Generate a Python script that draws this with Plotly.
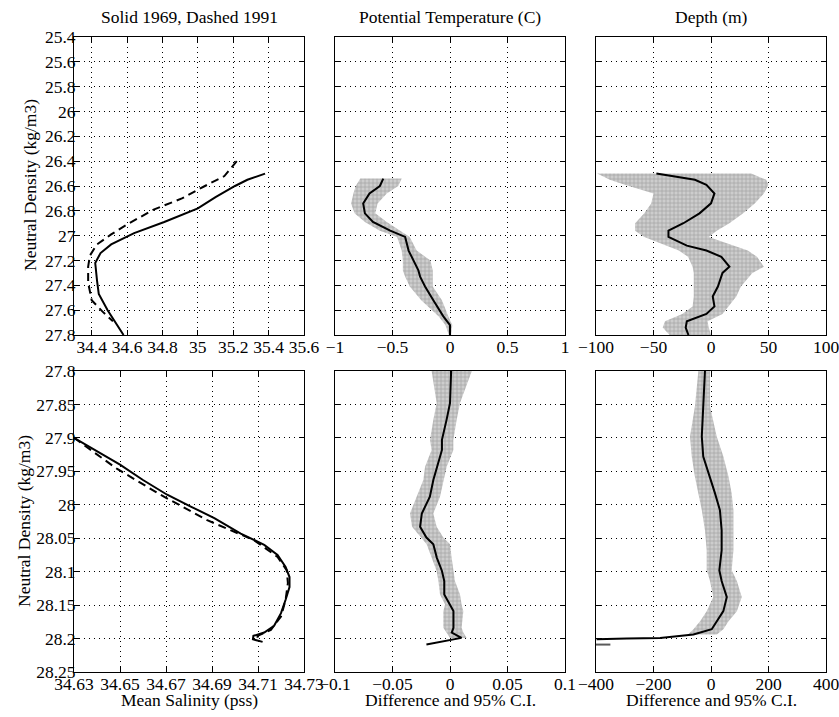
import plotly.graph_objects as go

# ---------------- data ----------------
# Top row: neutral density 25.4 - 27.8
sal69_top_y = [26.5, 26.55, 26.6, 26.69, 26.78, 26.89, 26.98, 27.07, 27.14, 27.22, 27.36, 27.47, 27.6, 27.8]
sal69_top_x = [35.38, 35.28, 35.21, 35.10, 35.00, 34.81, 34.64, 34.51, 34.45, 34.42, 34.43, 34.44, 34.49, 34.58]
sal91_top_y = [26.4, 26.52, 26.6, 26.7, 26.79, 26.91, 26.99, 27.07, 27.16, 27.25, 27.38, 27.52, 27.61, 27.69]
sal91_top_x = [35.22, 35.15, 35.04, 34.91, 34.75, 34.60, 34.51, 34.43, 34.39, 34.38, 34.38, 34.40, 34.46, 34.52]

temp_top_y = [26.54, 26.6, 26.66, 26.74, 26.82, 26.89, 26.96, 27.01, 27.12, 27.2, 27.28, 27.33, 27.41, 27.52, 27.65, 27.72, 27.8]
temp_top_x = [-0.58, -0.61, -0.70, -0.755, -0.74, -0.67, -0.52, -0.39, -0.36, -0.32, -0.275, -0.26, -0.217, -0.145, -0.058, 0.0, 0.0]
temp_top_lo = [-0.78, -0.82, -0.84, -0.86, -0.83, -0.74, -0.61, -0.46, -0.42, -0.41, -0.41, -0.39, -0.35, -0.25, -0.10, -0.04, -0.01]
temp_top_hi = [-0.42, -0.45, -0.55, -0.63, -0.65, -0.55, -0.43, -0.35, -0.29, -0.17, -0.15, -0.15, -0.15, -0.07, -0.015, 0.02, 0.01]

depth_top_y = [26.5, 26.55, 26.59, 26.66, 26.74, 26.82, 26.9, 26.96, 27.01, 27.08, 27.12, 27.17, 27.25, 27.3, 27.41, 27.49, 27.57, 27.63, 27.69, 27.74, 27.8]
depth_top_x = [-47.5, -14, -4, 3, 0, -10, -24, -37, -37, -21, -4, 9, 16, 10, 6, 1.5, 3, -4, -21, -22, -19.6]
depth_top_lo = [-99, -88, -75, -50, -52, -58, -66, -66, -58, -38, -28, -20, -16, -15, -15, -15, -16, -25, -40, -42, -36]
depth_top_hi = [35, 48, 50, 46, 38, 28, 16, 5, -2, 20, 32, 40, 46, 36, 26, 22, 15, 10, -3, -2, 0]

# Bottom row: neutral density 27.8 - 28.25
sal69_bot_y = [27.9, 27.92, 27.94, 27.963, 27.985, 28.003, 28.02, 28.043, 28.06, 28.075, 28.093, 28.108, 28.123, 28.142, 28.162, 28.181, 28.191, 28.196, 28.2012, 28.205]
sal69_bot_x = [34.63, 34.64, 34.65, 34.66, 34.6705, 34.681, 34.691, 34.7025, 34.7127, 34.7185, 34.722, 34.7237, 34.7237, 34.722, 34.72, 34.717, 34.7127, 34.708, 34.7078, 34.712]
sal91_bot_y = [27.9, 27.946, 27.985, 28.023, 28.053, 28.078, 28.098, 28.117, 28.142, 28.167, 28.187, 28.196, 28.203]
sal91_bot_x = [34.63, 34.6486, 34.6676, 34.6879, 34.7083, 34.7185, 34.7225, 34.723, 34.722, 34.72, 34.7156, 34.7098, 34.7098]

temp_bot_y = [27.8, 27.848, 27.873, 27.903, 27.918, 27.943, 27.963, 27.988, 28.013, 28.033, 28.049, 28.059, 28.079, 28.099, 28.114, 28.134, 28.149, 28.159, 28.184, 28.191, 28.199, 28.209]
temp_bot_x = [0.001, 0.0, -0.003, -0.007, -0.007, -0.0115, -0.0145, -0.0175, -0.0245, -0.026, -0.0205, -0.0145, -0.0115, -0.007, -0.005, -0.005, 0.0, 0.003, 0.003, 0.0015, 0.01, -0.0205]
temp_bot_band_y = temp_bot_y[:21]
temp_bot_lo = [-0.016, -0.0116, -0.0145, -0.0174, -0.016, -0.0217, -0.0232, -0.029, -0.0348, -0.033, -0.0248, -0.0203, -0.016, -0.0116, -0.0101, -0.0087, -0.0043, -0.0058, -0.0058, -0.0029, 0.0]
temp_bot_hi = [0.019, 0.0087, 0.0058, 0.0029, 0.0029, -0.0029, -0.0058, -0.0087, -0.0145, -0.0116, -0.0058, 0.0, 0.0014, 0.0029, 0.0043, 0.0087, 0.0101, 0.0116, 0.0101, 0.0116, 0.0145]

depth_bot_y = [27.8, 27.853, 27.898, 27.928, 27.958, 27.983, 28.008, 28.038, 28.068, 28.098, 28.114, 28.138, 28.159, 28.174, 28.186, 28.194, 28.199, 28.2, 28.201]
depth_bot_x = [-21, -27, -32, -27, -3.5, 14, 31, 37, 37, 29, 37, 55, 43, 20, 2.5, -61, -177, -293, -398]
depth_bot_band_y = [27.8, 27.853, 27.898, 27.928, 27.958, 27.983, 28.008, 28.038, 28.068, 28.098, 28.114, 28.138, 28.159, 28.174, 28.186, 28.194]
depth_bot_lo = [-44, -56, -73, -67, -56, -44, -32, -21, -15, -15, -3.5, 8, -15, -38, -61, -80]
depth_bot_hi = [-3.5, -3.5, 20, 43, 61, 72, 78, 78, 78, 72, 90, 107, 90, 61, 43, 20]
depth_bot_stub_x = [-400, -350]
depth_bot_stub_y = [28.209, 28.209]

# axis ticks
top_y_ticks = [25.4, 25.6, 25.8, 26.0, 26.2, 26.4, 26.6, 26.8, 27.0, 27.2, 27.4, 27.6, 27.8]
top_y_text = ["25.4", "25.6", "25.8", "26", "26.2", "26.4", "26.6", "26.8", "27", "27.2", "27.4", "27.6", "27.8"]
bot_y_ticks = [27.8, 27.85, 27.9, 27.95, 28.0, 28.05, 28.1, 28.15, 28.2, 28.25]
bot_y_text = ["27.8", "27.85", "27.9", "27.95", "28", "28.05", "28.1", "28.15", "28.2", "28.25"]
sal_top_ticks = [34.4, 34.6, 34.8, 35.0, 35.2, 35.4, 35.6]
sal_top_text = ["34.4", "34.6", "34.8", "35", "35.2", "35.4", "35.6"]
temp_top_ticks = [-1, -0.5, 0, 0.5, 1]
temp_top_text = ["\u22121", "\u22120.5", "0", "0.5", "1"]
depth_top_ticks = [-100, -50, 0, 50, 100]
depth_top_text = ["\u2212100", "\u221250", "0", "50", "100"]
sal_bot_ticks = [34.63, 34.65, 34.67, 34.69, 34.71, 34.73]
sal_bot_text = ["34.63", "34.65", "34.67", "34.69", "34.71", "34.73"]
temp_bot_ticks = [-0.1, -0.05, 0, 0.05, 0.1]
temp_bot_text = ["\u22120.1", "\u22120.05", "0", "0.05", "0.1"]
depth_bot_ticks = [-400, -200, 0, 200, 400]
depth_bot_text = ["\u2212400", "\u2212200", "0", "200", "400"]

# ---------------- figure ----------------
FONT = "Liberation Serif, Times New Roman, serif"
W, H = 839, 717
FS = 17.5
fig = go.Figure()

def band(xa, ya, ys, lo, hi):
    fig.add_trace(go.Scatter(
        x=list(lo) + list(hi)[::-1], y=list(ys) + list(ys)[::-1],
        fill="toself", mode="lines", line=dict(width=0),
        fillcolor="rgb(180,180,180)",
        fillpattern=dict(shape="+", fgcolor="rgb(125,125,125)", bgcolor="rgb(205,205,205)", size=4, solidity=0.35),
        xaxis=xa, yaxis=ya, hoverinfo="skip"))

def line(xa, ya, xs, ys, dash="solid", color="black", width=2):
    fig.add_trace(go.Scatter(x=xs, y=ys, mode="lines",
                             line=dict(color=color, width=width, dash=dash),
                             xaxis=xa, yaxis=ya))

line("x", "y", sal91_top_x, sal91_top_y, dash="8px,5px")
line("x", "y", sal69_top_x, sal69_top_y)
band("x2", "y2", temp_top_y, temp_top_lo, temp_top_hi)
line("x2", "y2", temp_top_x, temp_top_y)
band("x3", "y3", depth_top_y, depth_top_lo, depth_top_hi)
line("x3", "y3", depth_top_x, depth_top_y)
line("x4", "y4", sal91_bot_x, sal91_bot_y, dash="8px,5px")
line("x4", "y4", sal69_bot_x, sal69_bot_y)
band("x5", "y5", temp_bot_band_y, temp_bot_lo, temp_bot_hi)
line("x5", "y5", temp_bot_x, temp_bot_y)
band("x6", "y6", depth_bot_band_y, depth_bot_lo, depth_bot_hi)
line("x6", "y6", depth_bot_x, depth_bot_y)
line("x6", "y6", depth_bot_stub_x, depth_bot_stub_y, color="rgb(90,90,90)", width=2)

cols = [(74, 304), (335, 565), (596, 826)]
rows = [(37, 335), (371, 672)]

def fx(p):
    return p / W

def fy(p):
    return 1 - p / H

tickfont = dict(family=FONT, size=FS, color="black")
common = dict(showline=True, linecolor="black", linewidth=1, mirror="allticks",
              ticks="inside", ticklen=5, tickcolor="black", automargin=False,
              showgrid=True, gridcolor="black", gridwidth=1, griddash="1px,4px",
              zeroline=False, tickfont=tickfont, fixedrange=True,
              ticklabeloverflow="allow")

xspecs = [
    (sal_top_ticks, sal_top_text, [34.3, 35.6 + 1e-9]),
    (temp_top_ticks, temp_top_text, [-1 - 1e-9, 1 + 1e-9]),
    (depth_top_ticks, depth_top_text, [-100 - 1e-7, 100 + 1e-7]),
    (sal_bot_ticks, sal_bot_text, [34.63 - 1e-9, 34.73 + 1e-9]),
    (temp_bot_ticks, temp_bot_text, [-0.1 - 1e-9, 0.1 + 1e-9]),
    (depth_bot_ticks, depth_bot_text, [-400 - 1e-6, 400 + 1e-6]),
]
layout = {}
for i in range(6):
    r, c = divmod(i, 3)
    suffix = "" if i == 0 else str(i + 1)
    tv, tt, rng = xspecs[i]
    layout["xaxis" + suffix] = dict(domain=[fx(cols[c][0]), fx(cols[c][1])], anchor="y" + suffix,
                                    tickvals=tv, ticktext=tt, range=rng,
                                    ticklabelstandoff=-4, **common)
    if r == 0:
        yv, yt, yr = top_y_ticks, top_y_text, [27.8 + 1e-9, 25.4 - 1e-9]
    else:
        yv, yt, yr = bot_y_ticks, bot_y_text, [28.25 + 1e-9, 27.8 - 1e-9]
    layout["yaxis" + suffix] = dict(domain=[fy(rows[r][1]), fy(rows[r][0])], anchor="x" + suffix,
                                    tickvals=yv, ticktext=yt if c == 0 else [""] * len(yv),
                                    range=yr, ticklabelstandoff=-6, **common)

ann_font = dict(family=FONT, size=FS, color="black")
annotations = []
for text, c in [("Solid 1969, Dashed 1991", 0), ("Potential Temperature (C)", 1), ("Depth (m)", 2)]:
    annotations.append(dict(text=text, x=fx((cols[c][0] + cols[c][1]) / 2), y=fy(17),
                            xref="paper", yref="paper", showarrow=False, font=ann_font,
                            xanchor="center", yanchor="middle"))
for text, c in [("Mean Salinity (pss)", 0), ("Difference and 95% C.I.", 1), ("Difference and 95% C.I.", 2)]:
    annotations.append(dict(text=text, x=fx((cols[c][0] + cols[c][1]) / 2), y=fy(700),
                            xref="paper", yref="paper", showarrow=False, font=ann_font,
                            xanchor="center", yanchor="middle"))
for xc, yc in [(30, 185), (24, 521)]:
    annotations.append(dict(text="Neutral Density (kg/m3)", x=fx(xc), y=fy(yc), textangle=-90,
                            xref="paper", yref="paper", showarrow=False, font=ann_font,
                            xanchor="center", yanchor="middle"))

fig.update_layout(width=W, height=H, margin=dict(l=0, r=0, t=0, b=0),
                  paper_bgcolor="white", plot_bgcolor="white", showlegend=False,
                  font=dict(family=FONT, size=FS, color="black"),
                  annotations=annotations, **layout)

fig.write_html("out.html", config={"displayModeBar": False},
               post_script="document.body.style.margin='0px';")
